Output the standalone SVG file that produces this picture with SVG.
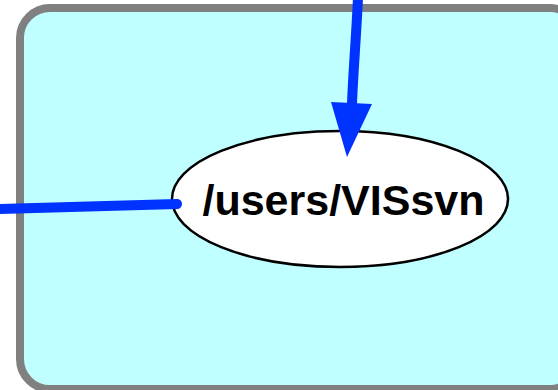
<svg xmlns="http://www.w3.org/2000/svg" width="558" height="390" viewBox="0 0 558 390">
<style>
.cluster{fill:#bfffff;stroke:#808080;stroke-width:8}
.node ellipse{fill:#ffffff;stroke:#000000;stroke-width:2.5}
.node text{font-family:"Liberation Sans",Arial,sans-serif;font-weight:bold;font-size:43px;fill:#000000}
.edge{fill:none;stroke:#0033ff;stroke-width:10}
.head{fill:#0033ff;stroke:none}
</style>
<g id="cluster">
<rect class="cluster" x="20" y="8" width="560" height="381" rx="30" ry="30"/>
</g>
<g id="node-visssvn" class="node">
<ellipse cx="340" cy="199" rx="168" ry="68"/>
<text x="343.5" y="215" text-anchor="middle">/users/VISsvn</text>
</g>
<g id="connectors">
<path class="edge" d="M358,-2 C356,40 353,75 352,104"/>
<polygon class="head" points="331,102 372,104 347,157"/>
<path class="edge" d="M-2,209 L177,204" stroke-linecap="round"/>
</g>
</svg>
